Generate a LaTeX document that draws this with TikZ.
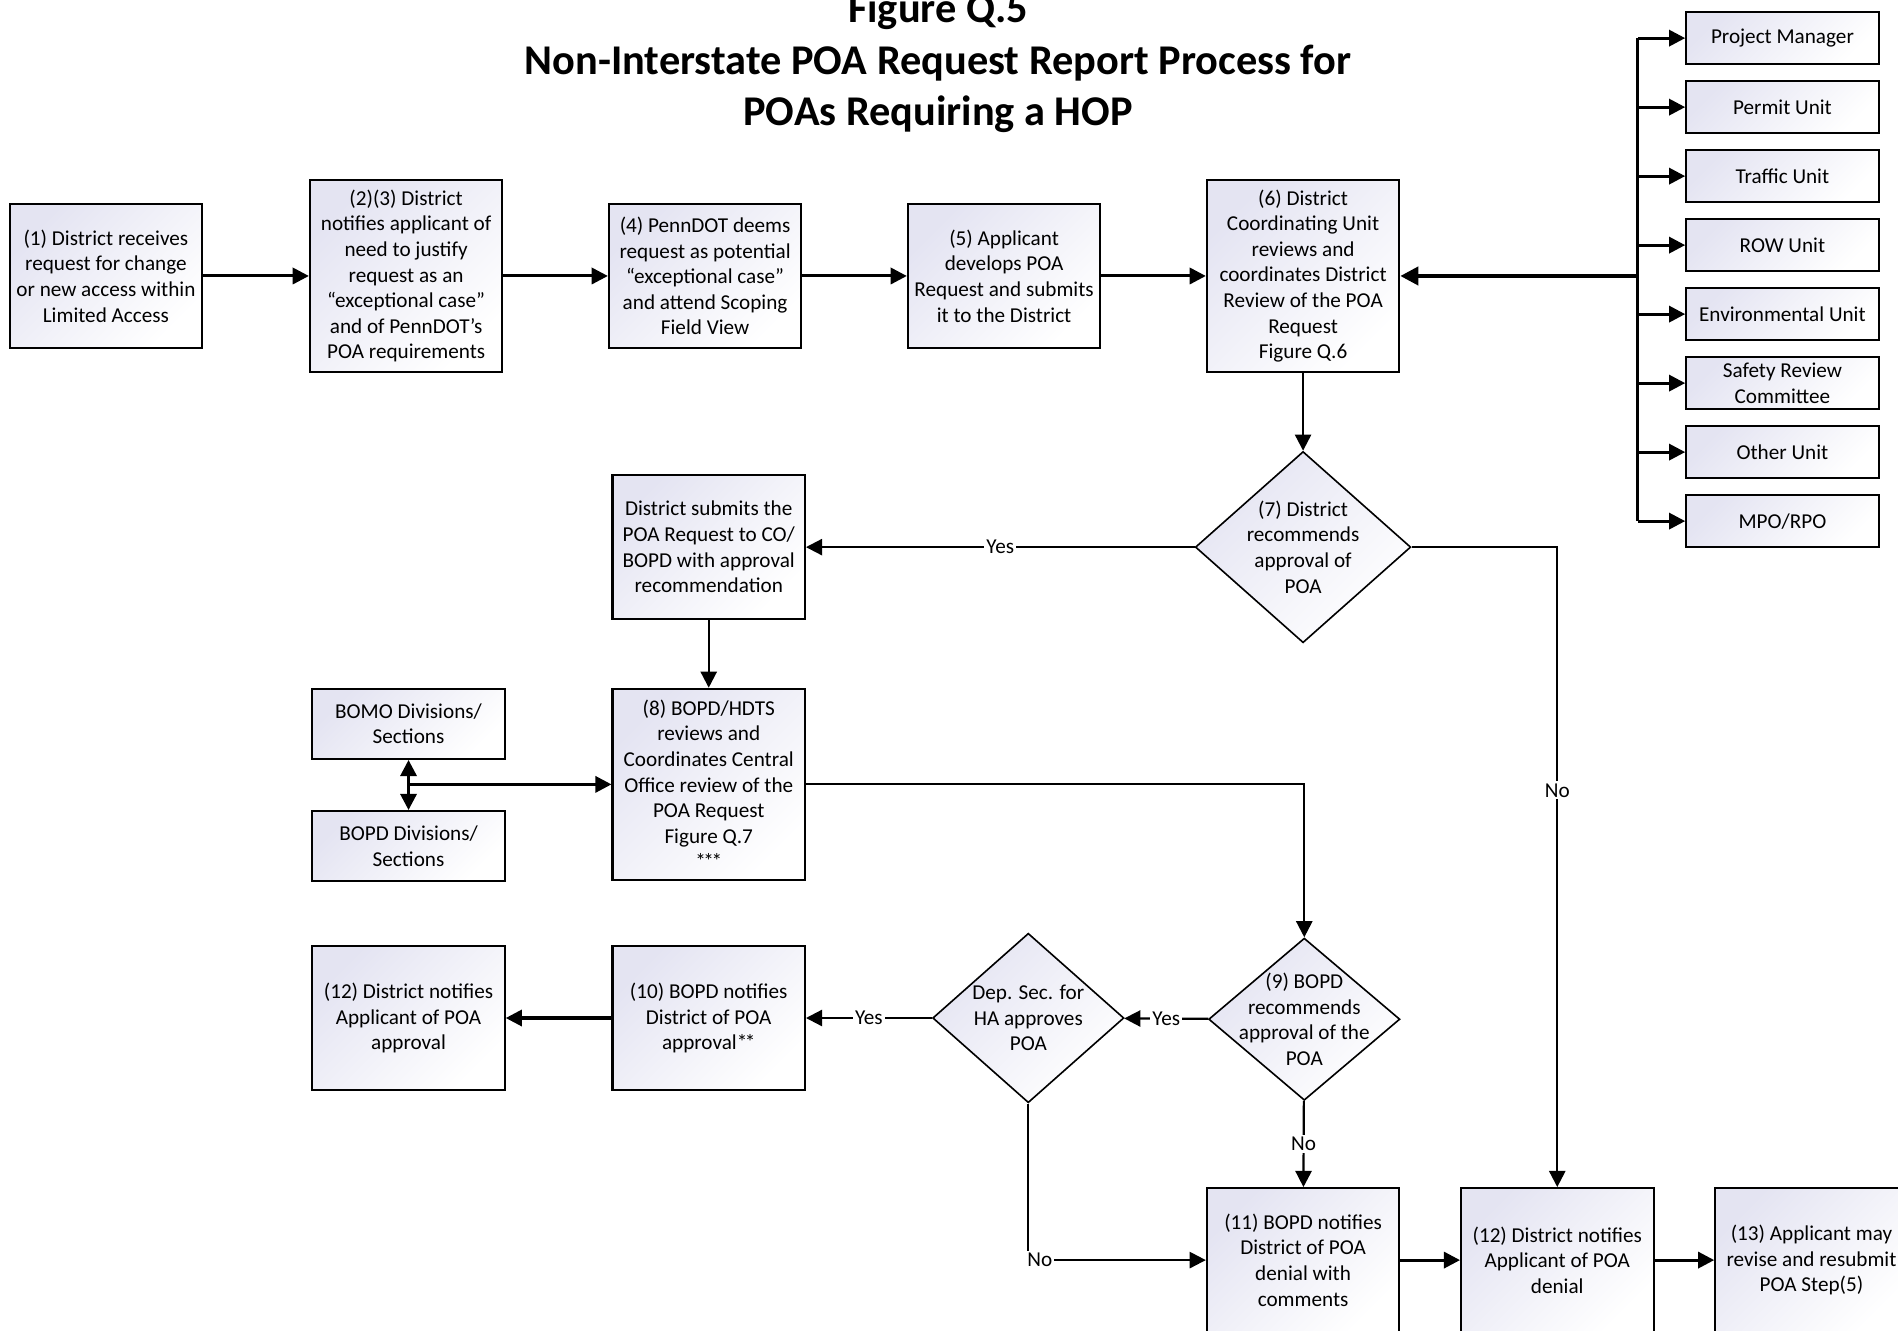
\documentclass[tikz,border=0pt]{standalone}
\usepackage{fontspec}
\setmainfont{Carlito}
\usetikzlibrary{arrows.meta,shapes.geometric}
\definecolor{boxtint}{HTML}{E4E4F2}

\begin{document}
\begin{tikzpicture}[x=0.6pt,y=-0.6pt,
  box/.style={draw,line width=1pt,top color=boxtint,bottom color=white,shading angle=45,
    align=center,font=\fontsize{10.5}{12.7}\selectfont,minimum width=95.4pt,inner sep=1pt},
  stepbox/.style={box,minimum height=71.4pt},
  tallbox/.style={box,minimum height=94.8pt},
  unitbox/.style={box,minimum height=25.8pt},
  sidebox/.style={box,minimum height=34.8pt},
  decision/.style={diamond,draw,line width=0.8pt,top color=boxtint,bottom color=white,
    shading angle=45,inner sep=0pt,minimum width=94.8pt},
  dtext/.style={align=center,font=\fontsize{10.5}{12.7}\selectfont,inner sep=0pt},
  flow/.style={line width=1.5pt,-{Triangle[length=8pt,width=8pt]}},
  bold/.style={line width=2pt,-{Triangle[length=9pt,width=9pt]}},
  thin/.style={line width=1.1pt,-{Triangle[length=8pt,width=8pt]}},
  lbl/.style={fill=white,inner sep=1pt,font=\fontsize{10.5}{12.7}\selectfont}]
\useasboundingbox (0,0) rectangle (1568,1099);
\clip (0,0) rectangle (1568,1099);

\node[font=\bfseries\fontsize{21}{25.6}\selectfont,align=center] (title) at (775,52)
  {Figure Q.5\\Non-Interstate POA Request Report Process for\\POAs Requiring a HOP};

\node[stepbox] (s1) at (87.5,228) {(1) District receives\\request for change\\or new access within\\Limited Access};
\node[tallbox] (s2) at (335.5,228) {(2)(3) District\\notifies applicant of\\need to justify\\request as an\\“exceptional case”\\and of PennDOT’s\\POA requirements};
\node[stepbox] (s4) at (582.5,228) {(4) PennDOT deems\\request as potential\\“exceptional case”\\and attend Scoping\\Field View};
\node[stepbox] (s5) at (829.5,228) {(5) Applicant\\develops POA\\Request and submits\\it to the District};
\node[tallbox] (s6) at (1076.5,228) {(6) District\\Coordinating Unit\\reviews and\\coordinates District\\Review of the POA\\Request\\Figure Q.6};

\foreach \txt [count=\i] in {Project Manager,Permit Unit,Traffic Unit,ROW Unit,Environmental Unit,{Safety Review\\Committee},Other Unit,MPO/RPO}
  \node[unitbox] (u\i) at (1472.5,{31.5+57*(\i-1)}) {\txt};
\coordinate (bus) at (1353,228);

\node[decision,minimum width=106.8pt,minimum height=94.8pt,
  label={[dtext]center:(7) District\\recommends\\approval of\\POA}] (d7) at (1076.5,452) {};
\node[stepbox] (sub) at (585.5,452) {District submits the\\POA Request to CO/\\BOPD with approval\\recommendation};
\node[tallbox] (s8) at (585.5,648) {(8) BOPD/HDTS\\reviews and\\Coordinates Central\\Office review of the\\POA Request\\Figure Q.7\\*\kern-1.2pt*\kern-1.2pt*};
\node[sidebox] (bomo) at (337.5,598) {BOMO Divisions/\\Sections};
\node[sidebox] (bopd) at (337.5,699) {BOPD Divisions/\\Sections};

\node[decision,minimum height=80.4pt,
  label={[dtext]center:(9) BOPD\\recommends\\approval of the\\POA}] (d9) at (1077.5,842) {};
\node[decision,minimum height=84pt,
  label={[dtext]center:Dep. Sec. for\\HA approves\\POA}] (dsec) at (849.5,841) {};
\node[stepbox] (s10) at (585.5,841) {(10) BOPD notifies\\District of POA\\approval*\kern-1.2pt*};
\node[stepbox] (s12a) at (337.5,841) {(12) District notifies\\Applicant of POA\\approval};

\node[stepbox] (s11) at (1076.5,1041) {(11) BOPD notifies\\District of POA\\denial with\\comments};
\node[stepbox] (s12b) at (1286.5,1041) {(12) District notifies\\Applicant of POA\\denial};
\node[stepbox] (s13) at (1496.5,1041) {(13) Applicant may\\revise and resubmit\\POA Step(5)};

\draw[flow] (s1) -- (s2);
\draw[flow] (s2) -- (s4);
\draw[flow] (s4) -- (s5);
\draw[flow] (s5) -- (s6);
\draw[line width=1.5pt] (bus |- u1) -- (bus |- u8);
\foreach \i in {1,...,8}
  \draw[flow] (bus |- u\i) -- (u\i);
\draw[bold] (bus) -- (s6);
\draw[thin] (s6) -- (d7);
\draw[thin] (d7) -- node[lbl]{Yes} (sub);
\draw[thin] (d7.east) -| node[lbl,pos=0.69]{No} (s12b);
\draw[thin] (sub) -- (s8);
\draw[line width=1.5pt,{Triangle[length=8pt,width=8pt]}-{Triangle[length=8pt,width=8pt]}] (bomo) -- (bopd);
\draw[flow] (bomo.south |- s8) -- (s8);
\draw[thin] (s8) -| (d9);
\draw[thin] (d9) -- node[lbl]{Yes} (dsec);
\draw[thin] (d9) -- node[lbl]{No} (s11);
\draw[thin] (dsec) -- node[lbl]{Yes} (s10);
\draw[flow] (s10) -- (s12a);
\draw[thin] (dsec.south) |- node[lbl,pos=0.5,anchor=west,xshift=-2pt]{No} (s11);
\draw[flow] (s11) -- (s12b);
\draw[flow] (s12b) -- (s13);
\end{tikzpicture}
\end{document}
